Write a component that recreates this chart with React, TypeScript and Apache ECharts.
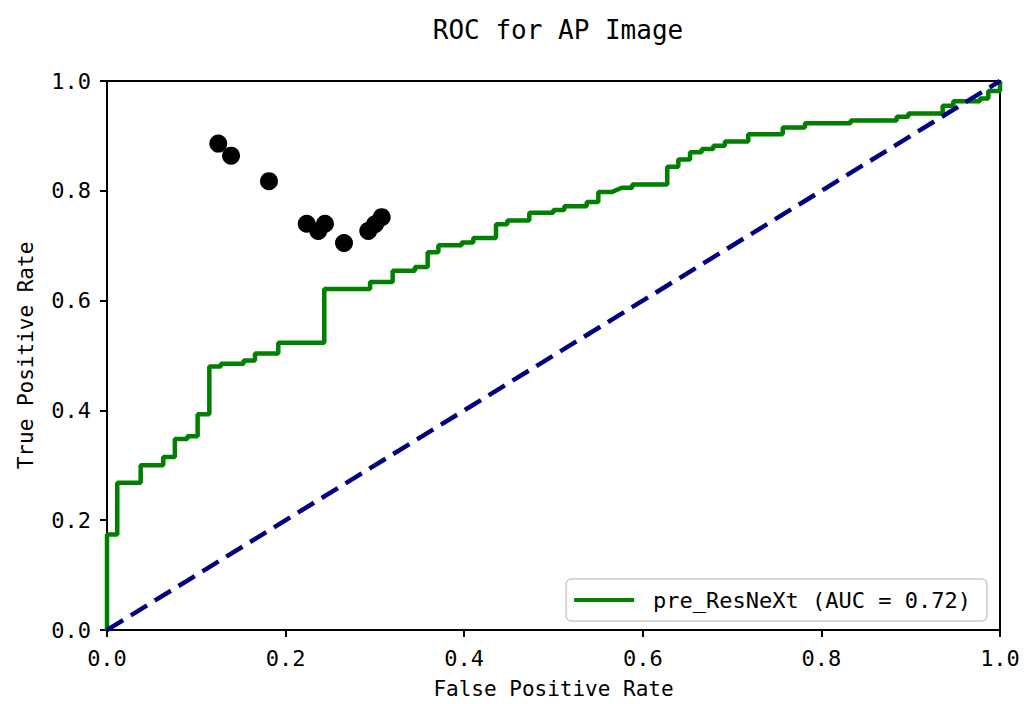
import React, { useEffect, useRef } from "react";
import * as echarts from "echarts";

const chartTitle = "ROC for AP Image";
const xAxisName = "False Positive Rate";
const yAxisName = "True Positive Rate";
const rocName = "pre_ResNeXt (AUC = 0.72)";

// ROC curve vertices (fpr, tpr) as returned by roc_curve
const rocFpr = [
  0, 0, 0.0115, 0.0115, 0.0377, 0.0377, 0.063, 0.063, 0.076, 0.076, 0.09, 0.09,
  0.1015, 0.1015, 0.1146, 0.1146, 0.1275, 0.1275, 0.153, 0.153, 0.1657, 0.1657,
  0.1918, 0.1918, 0.2433, 0.2433, 0.2946, 0.2946, 0.3199, 0.3199, 0.3449, 0.3449,
  0.3591, 0.3591, 0.3711, 0.3711, 0.3972, 0.3972, 0.4102, 0.4102, 0.4356, 0.4356,
  0.4483, 0.4483, 0.4729, 0.4729, 0.4998, 0.4998, 0.5121, 0.5121, 0.5372, 0.5372,
  0.5502, 0.5502, 0.5652, 0.5764, 0.5882, 0.5882, 0.6274, 0.6274, 0.6398, 0.6398,
  0.6529, 0.6529, 0.666, 0.666, 0.679, 0.679, 0.692, 0.692, 0.7181, 0.7181,
  0.7567, 0.7567, 0.7816, 0.7816, 0.8328, 0.8328, 0.8843, 0.8843, 0.8973, 0.8973,
  0.9358, 0.9358, 0.9477, 0.9477, 0.9776, 0.9776, 0.9869, 0.9869, 1.0, 1.0,
];
const rocTpr = [
  0, 0.174, 0.174, 0.268, 0.268, 0.3, 0.3, 0.315, 0.315, 0.348, 0.348, 0.353,
  0.353, 0.393, 0.393, 0.48, 0.48, 0.485, 0.485, 0.491, 0.491, 0.5036,
  0.5036, 0.523, 0.523, 0.621, 0.621, 0.634, 0.634, 0.6545, 0.6545, 0.661,
  0.661, 0.688, 0.688, 0.701, 0.701, 0.706, 0.706, 0.714, 0.714, 0.739,
  0.739, 0.746, 0.746, 0.76, 0.76, 0.765, 0.765, 0.772, 0.772, 0.7796,
  0.7796, 0.7977, 0.7977, 0.8056, 0.8056, 0.8116, 0.8116, 0.8437, 0.8437, 0.857,
  0.857, 0.87, 0.87, 0.876, 0.876, 0.882, 0.882, 0.89, 0.89, 0.903,
  0.903, 0.9155, 0.9155, 0.923, 0.923, 0.928, 0.928, 0.935, 0.935, 0.941,
  0.941, 0.955, 0.955, 0.963, 0.963, 0.968, 0.968, 0.982, 0.982, 1.0,
];

// Operating points (black dots)
const pointFpr = [0.1246, 0.1389, 0.1814, 0.2236, 0.2366, 0.2441, 0.2654, 0.2926, 0.3001, 0.3076];
const pointTpr = [0.886, 0.864, 0.8176, 0.74, 0.727, 0.74, 0.705, 0.727, 0.739, 0.752];

// Chance line
const chanceX = [0, 1];
const chanceY = [0, 1];

const FONT = "DejaVu Sans Mono";

export default function App() {
  const ref = useRef<HTMLDivElement>(null);

  useEffect(() => {
    if (!ref.current) return;
    const chart = echarts.init(ref.current, null, { renderer: "svg" });
    const rocData = rocFpr.map((x, i) => [x, rocTpr[i]]);
    const pointData = pointFpr.map((x, i) => [x, pointTpr[i]]);
    const chanceData = chanceX.map((x, i) => [x, chanceY[i]]);
    const axisCommon = {
      type: "value" as const,
      min: 0,
      max: 1,
      interval: 0.2,
      splitLine: { show: false },
      axisLine: { show: true, lineStyle: { color: "#000", width: 2 } },
      axisTick: { show: true, length: 7, lineStyle: { color: "#000", width: 2 } },
      nameLocation: "middle" as const,
      nameTextStyle: { fontFamily: FONT, fontSize: 21, color: "#000" },
    };
    chart.setOption({
      animation: false,
      backgroundColor: "#fff",
      title: {
        text: chartTitle,
        left: 553,
        top: 12,
        textAlign: "center",
        textStyle: { fontFamily: FONT, fontSize: 26, fontWeight: "normal", color: "#000" },
      },
      grid: {
        left: 107,
        right: 36,
        top: 81,
        bottom: 71,
        show: true,
        borderColor: "#000",
        borderWidth: 2,
        backgroundColor: "transparent",
      },
      legend: {
        data: [rocName],
        right: 49,
        bottom: 83,
        orient: "vertical",
        icon: "rect",
        itemWidth: 60,
        itemHeight: 4,
        padding: [10, 16, 10, 8],
        backgroundColor: "#fff",
        borderColor: "#cccccc",
        borderWidth: 1.5,
        borderRadius: 5,
        textStyle: { fontFamily: FONT, fontSize: 22, color: "#000", padding: [0, 0, 0, 14] },
      },
      xAxis: {
        ...axisCommon,
        name: xAxisName,
        nameGap: 48,
        axisLabel: {
          margin: 17,
          fontFamily: FONT,
          fontSize: 22,
          color: "#000",
          formatter: (v: number) => v.toFixed(1),
        },
      },
      yAxis: {
        ...axisCommon,
        name: yAxisName,
        nameGap: 71,
        axisLabel: {
          margin: 16,
          fontFamily: FONT,
          fontSize: 22,
          color: "#000",
          formatter: (v: number) => v.toFixed(1),
        },
      },
      series: [
        {
          type: "scatter",
          name: "points",
          data: pointData,
          symbol: "circle",
          symbolSize: 18,
          itemStyle: { color: "#000", opacity: 1 },
          z: 2,
        },
        {
          type: "line",
          name: rocName,
          data: rocData,
          showSymbol: false,
          symbol: "none",
          lineStyle: { color: "#008000", width: 4.5 },
          itemStyle: { color: "#008000" },
          z: 3,
        },
        {
          type: "line",
          name: "chance",
          data: chanceData,
          showSymbol: false,
          symbol: "none",
          lineStyle: { color: "#000080", width: 4.5, type: [19, 9] },
          z: 4,
        },
      ],
    });
    return () => chart.dispose();
  }, []);

  return <div ref={ref} style={{ width: 1036, height: 704, position: "absolute", left: 0, top: 0 }} />;
}
